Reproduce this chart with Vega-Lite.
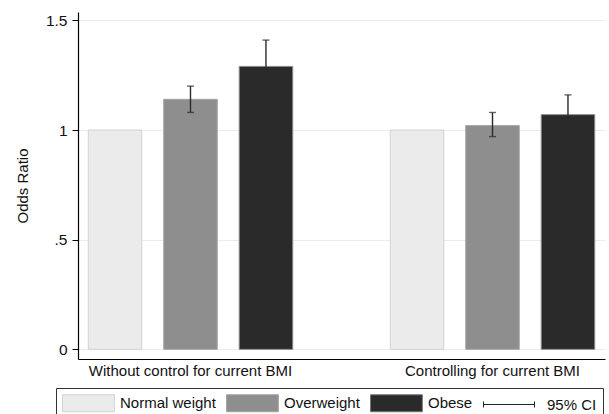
{
  "$schema": "https://vega.github.io/schema/vega-lite/v6.json",
  "autosize": "none",
  "width": 527,
  "height": 347,
  "padding": {"left": 78, "top": 12, "right": 4, "bottom": 55},
  "background": "white",
  "config": {
    "view": {"stroke": null},
    "font": "Liberation Sans"
  },
  "data": {
    "values": [
      {"group": "Without control for current BMI", "bmi": "Normal weight", "or": 1.0, "lo": null, "hi": null},
      {"group": "Without control for current BMI", "bmi": "Overweight", "or": 1.14, "lo": 1.08, "hi": 1.20},
      {"group": "Without control for current BMI", "bmi": "Obese", "or": 1.29, "lo": 1.18, "hi": 1.41},
      {"group": "Controlling for current BMI", "bmi": "Normal weight", "or": 1.0, "lo": null, "hi": null},
      {"group": "Controlling for current BMI", "bmi": "Overweight", "or": 1.02, "lo": 0.97, "hi": 1.08},
      {"group": "Controlling for current BMI", "bmi": "Obese", "or": 1.07, "lo": 0.99, "hi": 1.16}
    ]
  },
  "encoding": {
    "x": {
      "field": "group",
      "type": "nominal",
      "sort": ["Without control for current BMI", "Controlling for current BMI"],
      "scale": {"paddingInner": 0.323, "paddingOuter": 0.034},
      "axis": {
        "title": null,
        "labelAngle": 0,
        "labelFontSize": 15,
        "labelColor": "#111",
        "labelPadding": 4,
        "labelLimit": 0,
        "ticks": false,
        "domainColor": "#000",
        "domainWidth": 1.2,
        "grid": false
      }
    },
    "xOffset": {
      "field": "bmi",
      "type": "nominal",
      "scale": {"domain": ["Normal weight", "Overweight", "Obese"], "paddingInner": 0.291, "paddingOuter": 0}
    }
  },
  "layer": [
    {
      "mark": {"type": "bar", "strokeWidth": 1},
      "encoding": {
        "y": {
          "field": "or",
          "type": "quantitative",
          "scale": {"domain": [-0.044, 1.538], "nice": false, "zero": false},
          "axis": {
            "title": "Odds Ratio",
            "titleFontSize": 15,
            "titleFontWeight": "normal",
            "titleColor": "#111",
            "titlePadding": 15,
            "values": [0, 0.5, 1, 1.5],
            "labelExpr": "datum.value == 0.5 ? '.5' : datum.value == 1.5 ? '1.5' : datum.value == 1 ? '1' : '0'",
            "labelFontSize": 15.5,
            "labelColor": "#111",
            "labelPadding": 5,
            "tickSize": 6,
            "tickColor": "#000",
            "domainColor": "#000",
            "domainWidth": 1.2,
            "grid": true,
            "gridColor": "#ececec",
            "gridWidth": 1.2
          }
        },
        "color": {
          "field": "bmi",
          "type": "nominal",
          "scale": {
            "domain": ["Normal weight", "Overweight", "Obese", "95% CI"],
            "range": ["#ebebeb", "#8e8e8e", "#2b2a2b", "#ffffff"]
          },
          "legend": {
            "title": null,
            "orient": "none",
            "legendX": -22,
            "legendY": 376,
            "direction": "horizontal",
            "columns": 4,
            "symbolSize": 289,
            "symbolStrokeWidth": 1,
            "labelFontSize": 15,
            "labelColor": "#111",
            "labelOffset": 40,
            "columnPadding": 8,
            "padding": 6,
            "strokeColor": "#333",
            "encode": {
              "symbols": {
                "update": {
                  "shape": {"signal": "datum.value === '95% CI' ? 'M-1,0H5M-1,-0.35V0.35M5,-0.35V0.35' : 'M-1,-1H5.1V1H-1Z'"},
                  "fill": {"signal": "datum.value === '95% CI' ? 'transparent' : datum.value === 'Normal weight' ? '#ebebeb' : datum.value === 'Overweight' ? '#8e8e8e' : '#2b2a2b'"},
                  "stroke": {"signal": "datum.value === '95% CI' ? '#222' : datum.value === 'Normal weight' ? '#d2d2d2' : datum.value === 'Overweight' ? '#a4a4a4' : '#777777'"},
                  "strokeWidth": {"value": 1},
                  "opacity": {"value": 1}
                }
              },
              "labels": {
                "update": {
                  "dx": {"signal": "datum.value === '95% CI' ? 6 : 0"}
                }
              }
            }
          }
        },
        "stroke": {
          "field": "bmi",
          "type": "nominal",
          "scale": {
            "domain": ["Normal weight", "Overweight", "Obese"],
            "range": ["#d2d2d2", "#a4a4a4", "#8a8a8a"]
          },
          "legend": null
        }
      }
    },
    {
      "transform": [{"filter": "datum.lo != null"}],
      "mark": {"type": "rule", "color": "#2a2a2a", "strokeWidth": 1.4},
      "encoding": {
        "y": {"field": "lo", "type": "quantitative"},
        "y2": {"field": "hi"}
      }
    },
    {
      "transform": [{"filter": "datum.lo != null"}],
      "mark": {"type": "tick", "color": "#2a2a2a", "size": 7, "thickness": 1.4},
      "encoding": {
        "y": {"field": "lo", "type": "quantitative"}
      }
    },
    {
      "transform": [{"filter": "datum.lo != null"}],
      "mark": {"type": "tick", "color": "#2a2a2a", "size": 7, "thickness": 1.4},
      "encoding": {
        "y": {"field": "hi", "type": "quantitative"}
      }
    }
  ]
}
